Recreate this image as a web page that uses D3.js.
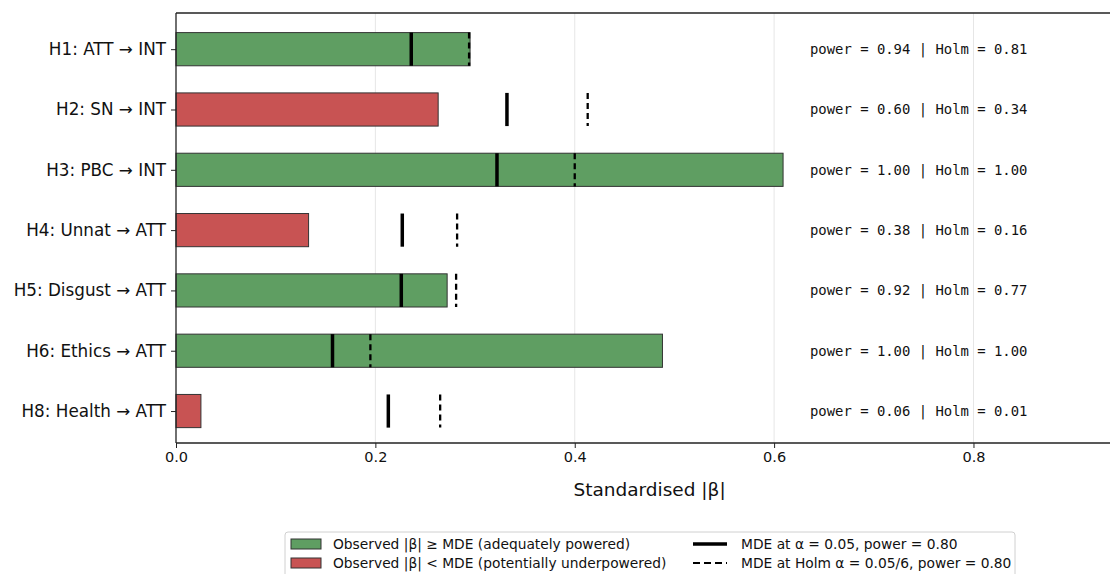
<!DOCTYPE html>
<html>
<head>
<meta charset="utf-8">
<script src="https://cdn.jsdelivr.net/npm/d3@7"></script>
<style>
  body { margin: 0; background: #fff; }
  svg { display: block; }
</style>
</head>
<body>
<div id="chart"></div>
<script>
const labels = ["H1: ATT \u2192 INT", "H2: SN \u2192 INT", "H3: PBC \u2192 INT", "H4: Unnat \u2192 ATT",
                "H5: Disgust \u2192 ATT", "H6: Ethics \u2192 ATT", "H8: Health \u2192 ATT"];
const beta = [0.295, 0.263, 0.609, 0.133, 0.272, 0.488, 0.025];
const mde05 = [0.236, 0.332, 0.322, 0.227, 0.226, 0.157, 0.213];
const mdeHolm = [0.294, 0.413, 0.400, 0.282, 0.281, 0.195, 0.265];
const power = ["0.94", "0.60", "1.00", "0.38", "0.92", "1.00", "0.06"];
const holm = ["0.81", "0.34", "1.00", "0.16", "0.77", "1.00", "0.01"];
const xTicks = [0, 0.2, 0.4, 0.6, 0.8];

const W = 1110, H = 574;
const green = "#5f9e62", red = "#c85353";

const svg = d3.select("#chart").append("svg")
  .attr("width", W).attr("height", H);

const x = d3.scaleLinear().domain([0, 0.95]).range([176, 1123]);
const y = d3.scaleLinear().domain([-0.6, 6.53]).range([13, 443]);
const barH = y(0.55) - y(0);

// grid
svg.append("g").selectAll("line")
  .data(xTicks.slice(1))
  .enter().append("line")
  .attr("x1", d => x(d)).attr("x2", d => x(d))
  .attr("y1", y(-0.6)).attr("y2", y(6.53))
  .attr("stroke", "#e6e6e6").attr("stroke-width", 1);

// bars
svg.append("g").selectAll("rect")
  .data(beta)
  .enter().append("rect")
  .attr("x", x(0))
  .attr("y", (d, i) => y(i) - barH / 2)
  .attr("width", d => x(d) - x(0))
  .attr("height", barH)
  .attr("fill", (d, i) => d >= mde05[i] ? green : red)
  .attr("stroke", "#333").attr("stroke-width", 1);

// MDE markers
svg.append("g").selectAll("line")
  .data(mde05)
  .enter().append("line")
  .attr("x1", d => x(d)).attr("x2", d => x(d))
  .attr("y1", (d, i) => y(i) - barH / 2)
  .attr("y2", (d, i) => y(i) + barH / 2)
  .attr("stroke", "#000").attr("stroke-width", 3.5);

svg.append("g").selectAll("line")
  .data(mdeHolm)
  .enter().append("line")
  .attr("x1", d => x(d)).attr("x2", d => x(d))
  .attr("y1", (d, i) => y(i) - barH / 2)
  .attr("y2", (d, i) => y(i) + barH / 2)
  .attr("stroke", "#000").attr("stroke-width", 2.3)
  .attr("stroke-dasharray", "6,4");

// annotations
svg.append("g").selectAll("text")
  .data(power)
  .enter().append("text")
  .attr("x", x(0.636))
  .attr("y", (d, i) => y(i))
  .attr("dy", "0.35em")
  .attr("font-family", "DejaVu Sans Mono")
  .attr("font-size", 13.9)
  .attr("fill", "#111")
  .text((d, i) => `power = ${d} | Holm = ${holm[i]}`);

// axes
const xAxis = d3.axisBottom(x).tickValues(xTicks).tickFormat(d3.format(".1f")).tickSize(5).tickPadding(4);
const gx = svg.append("g").attr("transform", `translate(0,${y(6.53)})`).call(xAxis);
gx.select(".domain").remove();
gx.selectAll("text").attr("font-family", "DejaVu Sans").attr("font-size", 14.5).attr("fill", "#111");
gx.selectAll("line").attr("stroke", "#222");

const yAxis = d3.axisLeft(y).tickValues(d3.range(labels.length)).tickFormat(i => labels[i]).tickSize(5).tickPadding(5);
const gy = svg.append("g").attr("transform", `translate(${x(0)},0)`).call(yAxis);
gy.select(".domain").remove();
gy.selectAll("text").attr("font-family", "DejaVu Sans").attr("font-size", 16.8).attr("fill", "#111");
gy.selectAll("line").attr("stroke", "#222");

// spines
svg.append("line").attr("x1", x(0)).attr("x2", x(0)).attr("y1", y(-0.6)).attr("y2", y(6.53))
  .attr("stroke", "#222").attr("stroke-width", 1.3);
svg.append("line").attr("x1", x(0)).attr("x2", W).attr("y1", y(6.53)).attr("y2", y(6.53))
  .attr("stroke", "#222").attr("stroke-width", 1.3);
svg.append("line").attr("x1", x(0)).attr("x2", W).attr("y1", y(-0.6)).attr("y2", y(-0.6))
  .attr("stroke", "#222").attr("stroke-width", 1.3);

svg.append("text")
  .attr("x", (x(0) + x(0.95)) / 2).attr("y", 496)
  .attr("text-anchor", "middle")
  .attr("font-family", "DejaVu Sans").attr("font-size", 18.5).attr("fill", "#111")
  .text("Standardised |\u03b2|");

// legend
const lg = svg.append("g").attr("transform", "translate(285,532)");
lg.append("rect").attr("x", 0).attr("y", 0).attr("width", 730).attr("height", 48).attr("rx", 3)
  .attr("fill", "#fff").attr("stroke", "#d0d0d0");
const legendItems = [
  { kind: "patch", color: green, text: "Observed |\u03b2| \u2265 MDE (adequately powered)", col: 0, row: 0 },
  { kind: "patch", color: red, text: "Observed |\u03b2| < MDE (potentially underpowered)", col: 0, row: 1 },
  { kind: "solid", text: "MDE at \u03b1 = 0.05, power = 0.80", col: 1, row: 0 },
  { kind: "dash", text: "MDE at Holm \u03b1 = 0.05/6, power = 0.80", col: 1, row: 1 }
];
const colX = [6, 408];
legendItems.forEach(it => {
  const cy = 12 + it.row * 19;
  const x0 = colX[it.col];
  if (it.kind === "patch") {
    lg.append("rect").attr("x", x0).attr("y", cy - 5).attr("width", 30).attr("height", 10)
      .attr("fill", it.color).attr("stroke", "#333").attr("stroke-width", 1);
  } else {
    lg.append("line").attr("x1", x0).attr("x2", x0 + 34).attr("y1", cy).attr("y2", cy)
      .attr("stroke", "#000").attr("stroke-width", it.kind === "solid" ? 3.5 : 2.2)
      .attr("stroke-dasharray", it.kind === "dash" ? "7,4" : null);
  }
  lg.append("text").attr("x", x0 + (it.kind === "patch" ? 42 : 48)).attr("y", cy).attr("dy", "0.35em")
    .attr("font-family", "DejaVu Sans").attr("font-size", 13.8).attr("fill", "#111")
    .text(it.text);
});
</script>
</body>
</html>
